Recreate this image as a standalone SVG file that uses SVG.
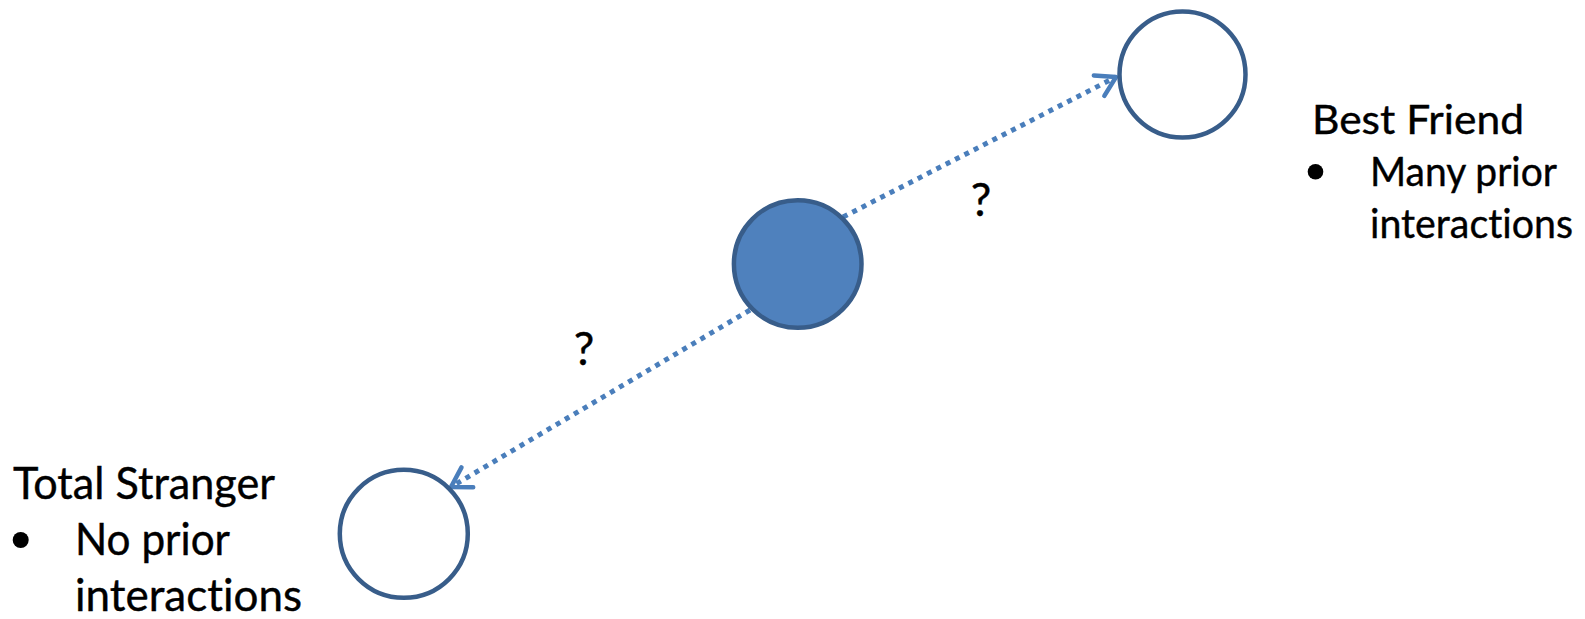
<svg xmlns="http://www.w3.org/2000/svg" width="1585" height="619" viewBox="0 0 1585 619">
<style>
.node{fill:#ffffff;stroke:#385d8a;stroke-width:4.5}
.center{fill:#4f81bd;stroke:#385d8a;stroke-width:4.5}
.conn{fill:none;stroke:#4a7ebb;stroke-width:5;stroke-dasharray:5 5.5}
.t{font-family:Lato,"Open Sans","Liberation Sans",sans-serif;fill:#000000;font-variant-ligatures:none;font-feature-settings:"liga" 0,"clig" 0;stroke:#000000;stroke-width:0.4}
.r{font-size:40.5px}
.l{font-size:43.5px}
.q{font-size:46px;text-anchor:middle}
.bul{fill:#000000}
</style>
<defs>
<marker id="arr" markerUnits="userSpaceOnUse" markerWidth="40" markerHeight="40" viewBox="-30 -20 40 40" refX="0" refY="0" orient="auto" overflow="visible">
<path d="M -19 -11.5 L 0 0 L -19 11.5" fill="none" stroke="#4a7ebb" stroke-width="4.5" stroke-linecap="round" stroke-linejoin="round" stroke-dasharray="none"/>
</marker>
</defs>
<g id="connectors">
<line class="conn" x1="843" y1="217" x2="1116" y2="77" marker-end="url(#arr)"/>
<line class="conn" x1="750" y1="310" x2="451" y2="487" marker-end="url(#arr)"/>
<text class="t q" x="981" y="216">?</text>
<text class="t q" x="584" y="365">?</text>
</g>
<g id="me">
<circle class="center" cx="797.7" cy="264" r="63.8"/>
</g>
<g id="best-friend">
<circle class="node" cx="1182.5" cy="74.5" r="63"/>
<text class="t r" x="1312" y="134" textLength="212" lengthAdjust="spacingAndGlyphs">Best Friend</text>
<circle class="bul" cx="1315.5" cy="171.8" r="7.8"/>
<text class="t r" x="1370" y="186" textLength="187" lengthAdjust="spacingAndGlyphs">Many prior</text>
<text class="t r" x="1370" y="238" textLength="203" lengthAdjust="spacingAndGlyphs">interactions</text>
</g>
<g id="total-stranger">
<circle class="node" cx="403.8" cy="533.8" r="64"/>
<text class="t l" x="13" y="498.5" textLength="262" lengthAdjust="spacingAndGlyphs">Total Stranger</text>
<circle class="bul" cx="20.7" cy="540" r="8"/>
<text class="t l" x="75" y="555" textLength="155" lengthAdjust="spacingAndGlyphs">No prior</text>
<text class="t l" x="75" y="611" textLength="227" lengthAdjust="spacingAndGlyphs">interactions</text>
</g>
</svg>
